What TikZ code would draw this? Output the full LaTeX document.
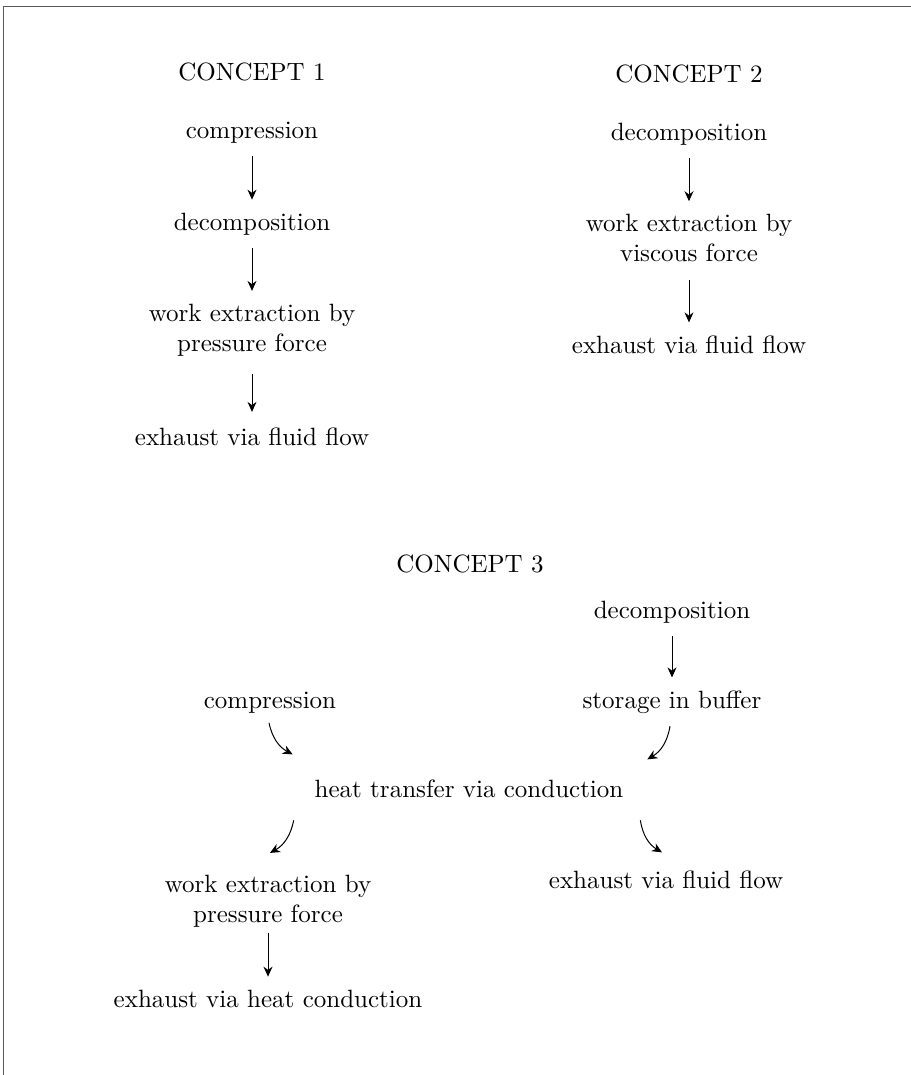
\documentclass[tikz,border=0pt]{standalone}
\usepackage{amsmath}
\usepackage{tikz}
\usetikzlibrary{arrows.meta}

\begin{document}
\begin{tikzpicture}[x=0.4pt,y=-0.4pt,>={Stealth[length=4pt,width=3.6pt]},
  stage/.style={align=center,inner xsep=3pt,inner ysep=5pt},
  line/.style={anchor=base,inner xsep=3pt,inner ysep=5pt}]
\useasboundingbox (0,0) rectangle (911,1075);
\draw[gray!70!black] (3,1075) -- (3,6) -- (911,6);
% concept 1
\node[line] (titleA) at (252,80) {CONCEPT 1};
\node[line] (compA) at (252,138) {compression};
\node[line] (decoA) at (252,230) {decomposition};
\node[stage] (workA) at (252,330) {work extraction by\\pressure force};
\node[line] (exhA) at (252,445) {exhaust via fluid flow};
\draw[->] (compA) -- (decoA);
\draw[->] (decoA) -- (workA);
\draw[->,shorten <=2pt,shorten >=1pt] (workA) -- (exhA);
% concept 2
\node[line] (titleB) at (689,82) {CONCEPT 2};
\node[line] (decoB) at (689,140) {decomposition};
\node[stage] (workB) at (689,238) {work extraction by\\viscous force};
\node[line] (exhB) at (689,353) {exhaust via fluid flow};
\draw[->] (decoB) -- (workB);
\draw[->,shorten <=2pt] (workB) -- (exhB);
% concept 3
\node[line] (titleC) at (470,572) {CONCEPT 3};
\node[line] (decoC) at (672,618) {decomposition};
\node[line] (buffC) at (672,708) {storage in buffer};
\node[line] (compC) at (270,708) {compression};
\node[line] (heatC) at (469,797) {heat transfer via conduction};
\node[stage] (workC) at (268,901) {work extraction by\\pressure force};
\node[line] (exhC) at (666,888) {exhaust via fluid flow};
\node[line] (condC) at (268,1007) {exhaust via heat conduction};
\draw[->] (decoC) -- (buffC);
\draw[->] ([shift={(-1,-3)}]compC.south) to[bend right=25] ([shift={(-14,-12)}]heatC.north west);
\draw[->] ([shift={(-2,0)}]buffC.south) to[bend left=25] ([shift={(16,-7)}]heatC.north east);
\draw[->] ([shift={(-13,10)}]heatC.south west) to[bend left=25] ([shift={(2,-9)}]workC.north);
\draw[->] ([shift={(9,10)}]heatC.south east) to[bend right=25] ([shift={(-4,-5)}]exhC.north);
\draw[->,shorten <=-3pt] (workC) -- (condC);
\end{tikzpicture}
\end{document}
